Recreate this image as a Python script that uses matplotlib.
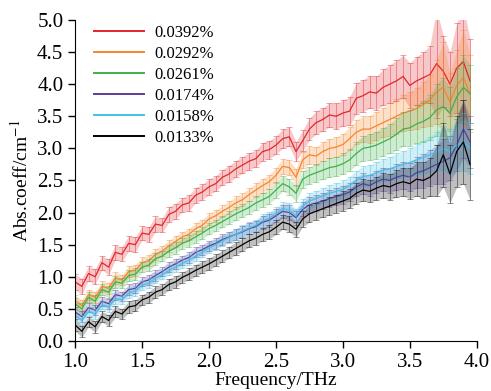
import matplotlib
matplotlib.use('Agg')
import matplotlib.pyplot as plt
import numpy as np

# frequency axis, 1.00 ... 3.95 THz
freq = np.arange(60) * 0.05 + 1.0

labels = ['0.0392%', '0.0292%', '0.0261%', '0.0174%', '0.0158%', '0.0133%']
colors = ['#e3262a', '#f5862a', '#40b04a', '#5b3d99', '#45c0e3', '#000000']

abs_0392 = [0.92, 0.85, 1.05, 1.00, 1.22, 1.15, 1.38, 1.35, 1.52, 1.50,
            1.68, 1.66, 1.82, 1.80, 1.97, 2.02, 2.12, 2.15, 2.27, 2.32,
            2.40, 2.45, 2.55, 2.60, 2.68, 2.74, 2.80, 2.84, 2.95, 2.98,
            3.05, 3.15, 3.18, 2.95, 3.12, 3.30, 3.40, 3.45, 3.52, 3.50,
            3.55, 3.58, 3.78, 3.82, 3.88, 3.86, 3.95, 4.00, 4.05, 4.12,
            3.98, 4.05, 4.10, 4.15, 4.32, 4.20, 4.00, 4.25, 4.35, 4.05]
abs_0292 = [0.62, 0.55, 0.72, 0.68, 0.85, 0.82, 0.98, 0.95, 1.08, 1.10,
            1.22, 1.25, 1.35, 1.40, 1.48, 1.55, 1.62, 1.66, 1.75, 1.80,
            1.90, 1.95, 2.02, 2.08, 2.15, 2.20, 2.28, 2.35, 2.42, 2.48,
            2.58, 2.72, 2.70, 2.55, 2.82, 2.90, 2.88, 2.95, 3.00, 3.02,
            3.06, 3.15, 3.25, 3.30, 3.30, 3.35, 3.40, 3.45, 3.50, 3.55,
            3.58, 3.62, 3.68, 3.75, 3.88, 3.95, 3.72, 3.98, 4.10, 3.85]
abs_0261 = [0.58, 0.50, 0.68, 0.62, 0.80, 0.76, 0.92, 0.90, 1.02, 1.04,
            1.15, 1.18, 1.28, 1.32, 1.40, 1.45, 1.52, 1.56, 1.62, 1.68,
            1.75, 1.80, 1.86, 1.92, 1.98, 2.03, 2.08, 2.15, 2.20, 2.25,
            2.35, 2.45, 2.40, 2.30, 2.52, 2.58, 2.62, 2.66, 2.70, 2.72,
            2.76, 2.82, 2.92, 3.00, 3.02, 3.05, 3.10, 3.15, 3.22, 3.30,
            3.32, 3.38, 3.42, 3.48, 3.60, 3.65, 3.55, 3.80, 3.95, 3.85]
abs_0174 = [0.45, 0.38, 0.52, 0.48, 0.62, 0.58, 0.72, 0.70, 0.80, 0.82,
            0.92, 0.95, 1.02, 1.08, 1.15, 1.20, 1.26, 1.30, 1.38, 1.42,
            1.48, 1.52, 1.58, 1.62, 1.66, 1.70, 1.75, 1.78, 1.85, 1.88,
            1.95, 2.02, 2.00, 1.92, 2.05, 2.12, 2.15, 2.18, 2.22, 2.25,
            2.28, 2.32, 2.40, 2.45, 2.42, 2.48, 2.52, 2.50, 2.55, 2.58,
            2.55, 2.62, 2.65, 2.70, 2.75, 2.80, 2.85, 3.05, 3.30, 3.10]
abs_0158 = [0.40, 0.32, 0.46, 0.42, 0.56, 0.53, 0.66, 0.64, 0.75, 0.78,
            0.87, 0.90, 0.98, 1.03, 1.10, 1.15, 1.21, 1.26, 1.32, 1.38,
            1.45, 1.50, 1.56, 1.61, 1.66, 1.71, 1.76, 1.80, 1.87, 1.91,
            1.98, 2.06, 2.04, 1.95, 2.10, 2.18, 2.22, 2.26, 2.30, 2.33,
            2.36, 2.42, 2.50, 2.56, 2.58, 2.62, 2.66, 2.68, 2.72, 2.75,
            2.78, 2.82, 2.86, 2.90, 2.95, 3.00, 2.95, 3.05, 3.10, 3.00]
abs_0133 = [0.25, 0.15, 0.30, 0.22, 0.38, 0.32, 0.46, 0.42, 0.53, 0.55,
            0.64, 0.68, 0.76, 0.80, 0.88, 0.92, 0.99, 1.04, 1.10, 1.15,
            1.20, 1.26, 1.32, 1.38, 1.44, 1.50, 1.56, 1.60, 1.66, 1.70,
            1.77, 1.85, 1.82, 1.74, 1.90, 1.98, 2.02, 2.06, 2.10, 2.14,
            2.18, 2.22, 2.30, 2.35, 2.33, 2.38, 2.42, 2.40, 2.45, 2.48,
            2.45, 2.52, 2.50, 2.55, 2.65, 2.90, 2.60, 2.95, 3.10, 2.75]

err_0392 = [0.12, 0.12, 0.11, 0.12, 0.11, 0.12, 0.12, 0.11, 0.12, 0.12,
            0.11, 0.12, 0.12, 0.11, 0.12, 0.12, 0.11, 0.12, 0.12, 0.12,
            0.12, 0.12, 0.12, 0.13, 0.13, 0.13, 0.13, 0.13, 0.14, 0.14,
            0.14, 0.15, 0.15, 0.15, 0.16, 0.17, 0.18, 0.18, 0.19, 0.20,
            0.20, 0.22, 0.24, 0.25, 0.25, 0.26, 0.28, 0.30, 0.32, 0.33,
            0.35, 0.38, 0.40, 0.45, 0.85, 0.55, 0.50, 0.70, 0.85, 0.65]
err_0292 = [0.09, 0.09, 0.08, 0.09, 0.08, 0.09, 0.09, 0.08, 0.09, 0.09,
            0.08, 0.09, 0.09, 0.08, 0.09, 0.09, 0.08, 0.09, 0.09, 0.09,
            0.09, 0.09, 0.09, 0.10, 0.10, 0.10, 0.10, 0.11, 0.11, 0.11,
            0.12, 0.12, 0.12, 0.13, 0.13, 0.14, 0.14, 0.15, 0.15, 0.16,
            0.17, 0.18, 0.19, 0.20, 0.21, 0.22, 0.23, 0.25, 0.27, 0.28,
            0.30, 0.32, 0.35, 0.40, 0.50, 0.70, 0.45, 0.55, 0.75, 0.60]
err_0261 = [0.09, 0.09, 0.08, 0.09, 0.08, 0.09, 0.09, 0.08, 0.09, 0.09,
            0.08, 0.09, 0.09, 0.08, 0.09, 0.09, 0.08, 0.09, 0.09, 0.09,
            0.09, 0.09, 0.09, 0.10, 0.10, 0.10, 0.10, 0.11, 0.11, 0.11,
            0.12, 0.12, 0.12, 0.13, 0.13, 0.13, 0.14, 0.14, 0.15, 0.15,
            0.16, 0.17, 0.18, 0.19, 0.20, 0.21, 0.22, 0.23, 0.25, 0.27,
            0.28, 0.30, 0.32, 0.35, 0.40, 0.45, 0.40, 0.45, 0.50, 0.45]
err_0174 = [0.08, 0.08, 0.07, 0.08, 0.07, 0.08, 0.08, 0.07, 0.08, 0.08,
            0.07, 0.08, 0.08, 0.07, 0.08, 0.08, 0.07, 0.08, 0.08, 0.08,
            0.08, 0.08, 0.08, 0.08, 0.09, 0.09, 0.09, 0.09, 0.10, 0.10,
            0.10, 0.10, 0.11, 0.11, 0.11, 0.12, 0.12, 0.12, 0.13, 0.13,
            0.14, 0.14, 0.15, 0.16, 0.16, 0.17, 0.18, 0.19, 0.20, 0.21,
            0.22, 0.24, 0.26, 0.28, 0.30, 0.35, 0.35, 0.40, 0.45, 0.40]
err_0158 = [0.08, 0.08, 0.07, 0.08, 0.07, 0.08, 0.08, 0.07, 0.08, 0.08,
            0.07, 0.08, 0.08, 0.07, 0.08, 0.08, 0.07, 0.08, 0.08, 0.08,
            0.08, 0.08, 0.08, 0.08, 0.09, 0.09, 0.09, 0.09, 0.10, 0.10,
            0.10, 0.10, 0.11, 0.11, 0.11, 0.12, 0.12, 0.12, 0.13, 0.13,
            0.14, 0.14, 0.15, 0.16, 0.16, 0.17, 0.18, 0.19, 0.20, 0.21,
            0.22, 0.24, 0.26, 0.28, 0.30, 0.35, 0.35, 0.40, 0.45, 0.40]
err_0133 = [0.09, 0.09, 0.08, 0.09, 0.08, 0.09, 0.09, 0.08, 0.09, 0.09,
            0.08, 0.09, 0.09, 0.08, 0.09, 0.09, 0.08, 0.09, 0.09, 0.09,
            0.09, 0.09, 0.09, 0.09, 0.10, 0.10, 0.10, 0.10, 0.10, 0.11,
            0.11, 0.11, 0.12, 0.12, 0.12, 0.13, 0.13, 0.13, 0.14, 0.14,
            0.15, 0.15, 0.16, 0.17, 0.17, 0.18, 0.19, 0.20, 0.21, 0.22,
            0.24, 0.26, 0.28, 0.30, 0.40, 0.50, 0.45, 0.55, 0.65, 0.55]

series = [abs_0392, abs_0292, abs_0261, abs_0174, abs_0158, abs_0133]
errors = [err_0392, err_0292, err_0261, err_0174, err_0158, err_0133]

plt.rcParams['font.family'] = ['Liberation Serif', 'DejaVu Serif']
plt.rcParams['mathtext.fontset'] = 'stix'

fig = plt.figure(figsize=(4.91, 3.91), dpi=100)
ax = fig.add_axes([0.153, 0.128, 0.818, 0.821])

for vals, err, c, lab in zip(series, errors, colors, labels):
    vals = np.array(vals)
    err = np.array(err)
    ax.fill_between(freq, vals - err, vals + err, color=c, alpha=0.25, lw=0)
    ax.errorbar(freq, vals, yerr=err, fmt='none', ecolor=c, elinewidth=0.6,
                capsize=2.2, capthick=0.6, alpha=0.5)
    ax.plot(freq, vals, color=c, lw=0.9, label=lab)

ax.set_xlim(1.0, 4.0)
ax.set_ylim(0.0, 5.0)
ax.set_xticks(np.arange(1.0, 4.01, 0.5))
ax.set_yticks(np.arange(0.0, 5.01, 0.5))
ax.xaxis.set_major_formatter(matplotlib.ticker.FormatStrFormatter('%.1f'))
ax.yaxis.set_major_formatter(matplotlib.ticker.FormatStrFormatter('%.1f'))
ax.spines['top'].set_visible(False)
ax.spines['right'].set_visible(False)
ax.tick_params(direction='out', length=5, width=1, labelsize=15)
ax.set_xlabel('Frequency/THz', fontsize=14, labelpad=0)
ax.set_ylabel('Abs.coeff/cm$^{-1}$', fontsize=14, labelpad=4)

leg = ax.legend(loc='upper left', bbox_to_anchor=(0.01, 1.03), frameon=False,
                fontsize=12, handlelength=3.0, labelspacing=0.3,
                handletextpad=0.6)
for h in leg.get_lines():
    h.set_linewidth(1.4)

fig.savefig('out.png', dpi=100)
